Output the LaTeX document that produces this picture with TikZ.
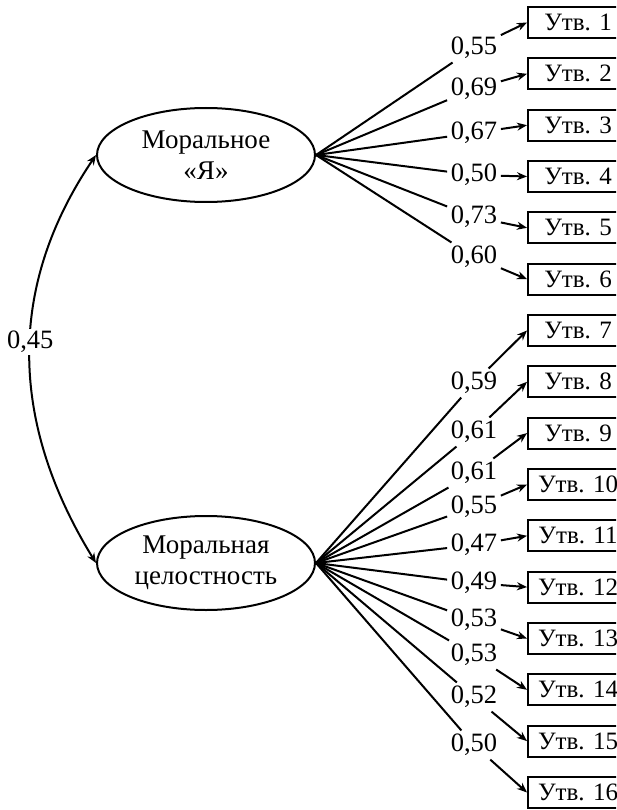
\documentclass[tikz,border=0pt]{standalone}
\usepackage{fontspec}
\setmainfont{Liberation Serif}
\usetikzlibrary{shapes.geometric,arrows.meta}
\begin{document}
\begin{tikzpicture}[x=1pt,y=-1pt,
 every node/.style={font=\fontsize{25}{31}\selectfont},
 latent/.style={ellipse,draw,line width=2pt,minimum width=218pt,minimum height=94pt,inner sep=0pt,align=center,font=\fontsize{27}{31}\selectfont},
 item/.style={draw,line width=2pt,minimum width=100pt,minimum height=31pt,inner sep=0pt},
 lab/.style={inner sep=3.5pt,font=\fontsize{26.5}{31}\selectfont},
 conn/.style={line width=2pt},
 arr/.style={line width=2pt,-{Stealth[length=10pt,width=8pt]}},
 dbl/.style={line width=2pt,{Stealth[length=10pt,width=8pt]}-{Stealth[length=10pt,width=8pt]}}]
\useasboundingbox (0,0) rectangle (616,810);
\clip (0,0) rectangle (616,810);

\node[latent] (m1) at (206,155) {Моральное\\«Я»};
\node[latent] (m2) at (206,563) {Моральная\\целостность};

% items
\node[item] (b1)  at (578,22.5)  {Утв. 1};
\node[item] (b2)  at (578,73.8)  {Утв. 2};
\node[item] (b3)  at (578,125.2) {Утв. 3};
\node[item] (b4)  at (578,176.5) {Утв. 4};
\node[item] (b5)  at (578,227.8) {Утв. 5};
\node[item] (b6)  at (578,279.2) {Утв. 6};
\node[item] (b7)  at (578,330.5) {Утв. 7};
\node[item] (b8)  at (578,381.8) {Утв. 8};
\node[item] (b9)  at (578,433.1) {Утв. 9};
\node[item] (b10) at (578,484.5) {Утв. 10};
\node[item] (b11) at (578,535.8) {Утв. 11};
\node[item] (b12) at (578,587.1) {Утв. 12};
\node[item] (b13) at (578,638.5) {Утв. 13};
\node[item] (b14) at (578,689.8) {Утв. 14};
\node[item] (b15) at (578,741.1) {Утв. 15};
\node[item] (b16) at (578,792.5) {Утв. 16};

% loadings labels
\node[lab] (l1)  at (474,48)  {0,55};
\node[lab] (l2)  at (474,89)  {0,69};
\node[lab] (l3)  at (474,133) {0,67};
\node[lab] (l4)  at (474,175) {0,50};
\node[lab] (l5)  at (474,217) {0,73};
\node[lab] (l6)  at (474,257) {0,60};
\node[lab] (l7)  at (474,383) {0,59};
\node[lab] (l8)  at (474,432) {0,61};
\node[lab] (l9)  at (474,473) {0,61};
\node[lab] (l10) at (474,507) {0,55};
\node[lab] (l11) at (474,545) {0,47};
\node[lab] (l12) at (474,583) {0,49};
\node[lab] (l13) at (474,620) {0,53};
\node[lab] (l14) at (474,655) {0,53};
\node[lab] (l15) at (474,697) {0,52};
\node[lab] (l16) at (474,745) {0,50};

% connectors
\foreach \k in {1,...,6}{
  \draw[conn] (m1.east) -- (l\k);
  \draw[arr] (l\k) -- (b\k.west);
}
\foreach \k in {7,...,16}{
  \draw[conn] (m2.east) -- (l\k);
  \draw[arr] (l\k) -- (b\k.west);
}

% correlation
\draw[dbl] (m1.west) .. controls (8,285) and (8,420) .. (m2.west)
  node[pos=0.47,fill=white,inner sep=2pt,font=\fontsize{26.5}{31}\selectfont] (r) {0,45};
\end{tikzpicture}
\end{document}
